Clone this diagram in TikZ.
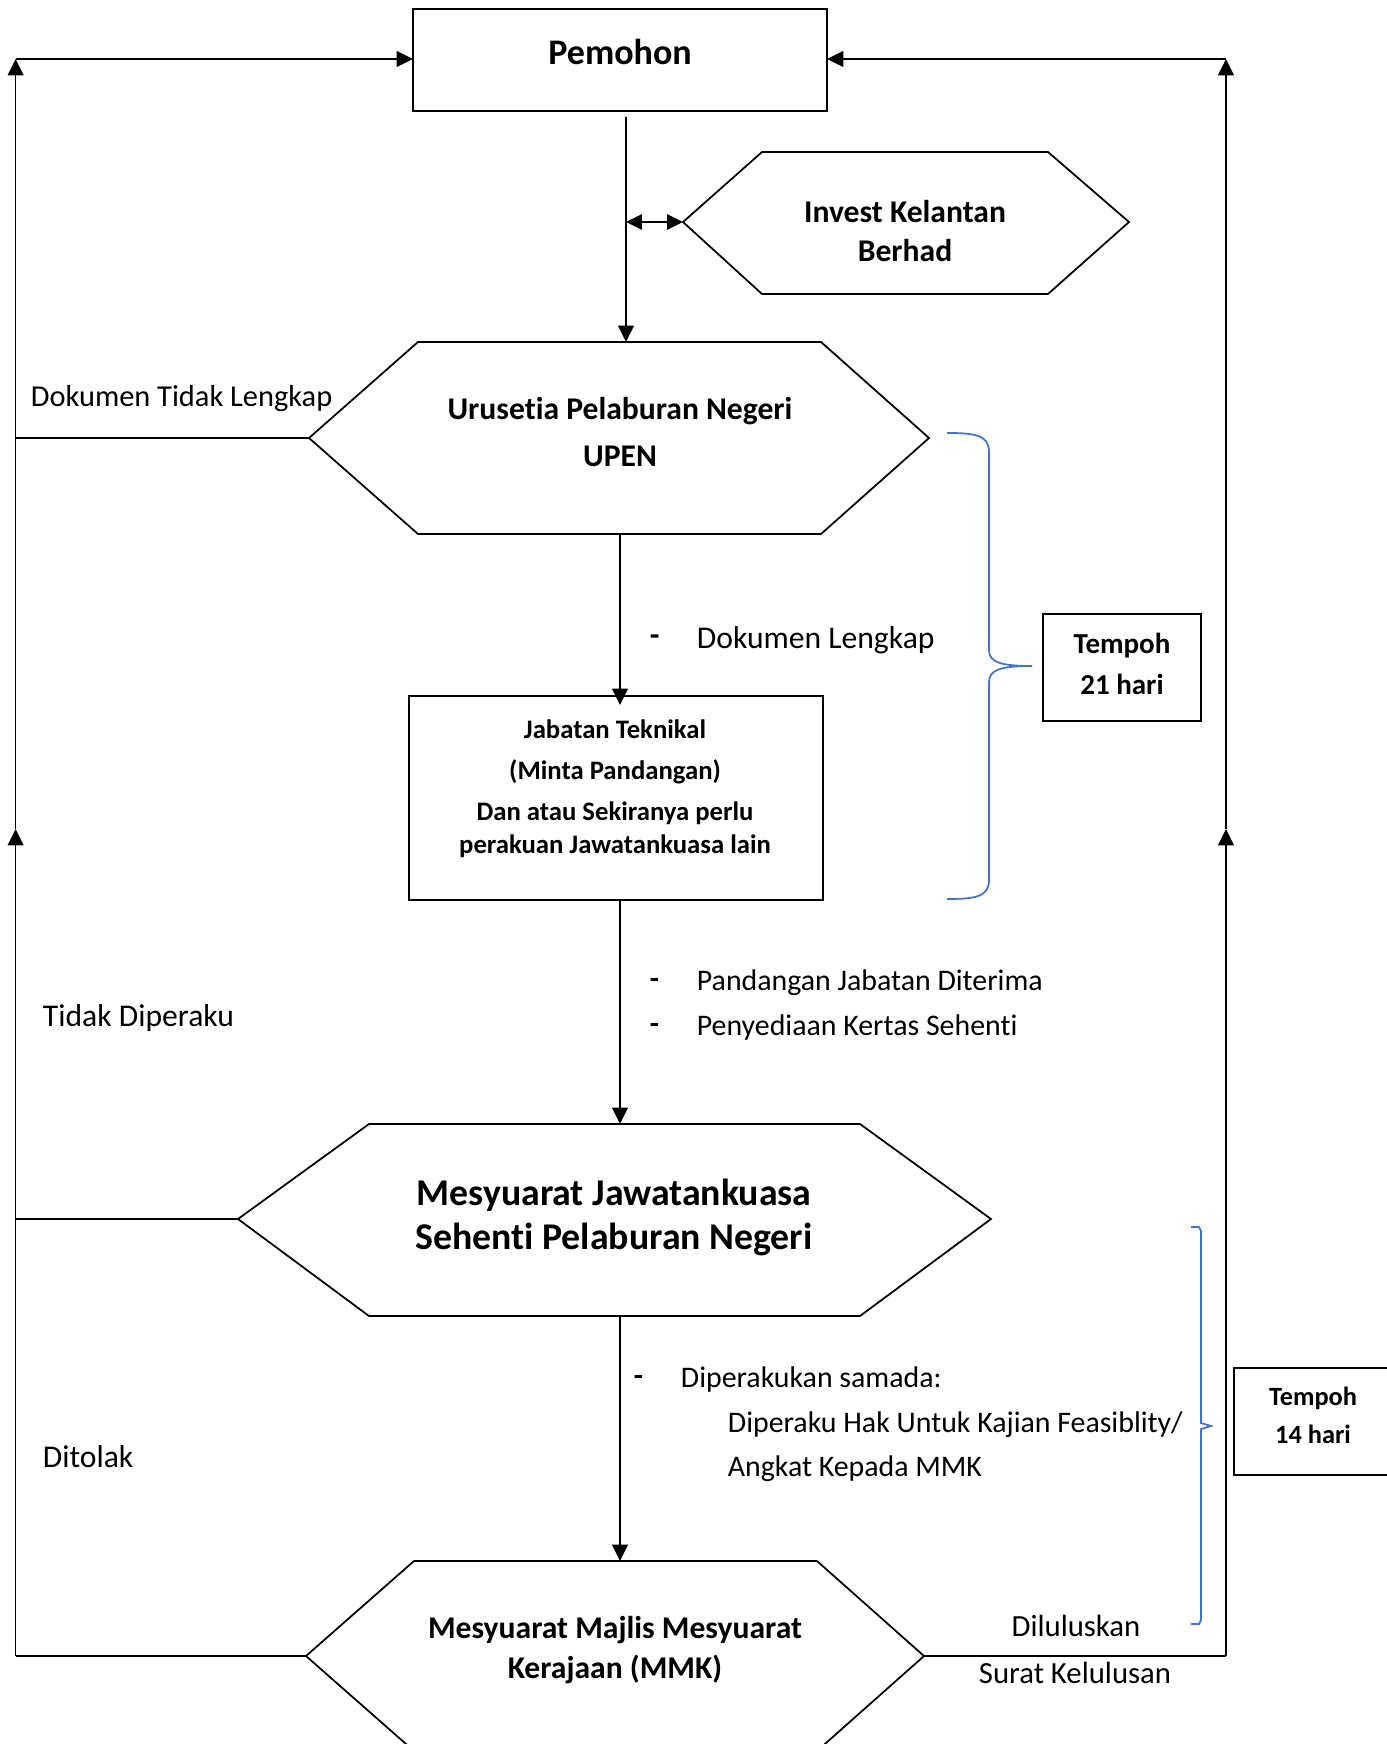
\documentclass[tikz,border=0pt]{standalone}
\usepackage{fontspec}
\setmainfont{Carlito}[Ligatures={NoCommon}]
\usetikzlibrary{arrows.meta}
\definecolor{braceblue}{RGB}{68,114,196}
\begin{document}
\begin{tikzpicture}[x=0.02cm,y=-0.02cm,line width=1pt,
  arr/.style={-{Triangle[length=9.3pt,width=9pt]}},
  darr/.style={{Triangle[length=9pt,width=8.6pt]}-{Triangle[length=9pt,width=8.6pt]}},
  lbl/.style={anchor=west,inner sep=0pt,font=\fontsize{17.3}{21}\selectfont},
  clbl/.style={inner sep=0pt,font=\fontsize{17.5}{21}\selectfont},
  bt/.style={inner sep=0pt,align=center},
  brace/.style={draw=braceblue,line width=1pt}]
\useasboundingbox (0,0) rectangle (1386,1744);
% ---------- Pemohon
\coordinate (pemNW) at (413,9);
\coordinate (pemSE) at (827,111);
\draw (pemNW) rectangle (pemSE);
\node[bt,font=\bfseries\fontsize{20.5}{24}\selectfont] (pem) at (620,52) {Pemohon};
\coordinate (pemW) at (413,59);
\coordinate (pemE) at (827,59);
\coordinate (pemS) at (626,117);
% ---------- Invest Kelantan hexagon
\coordinate (invL) at (683,222);
\coordinate (invTL) at (762,152);
\coordinate (invTR) at (1048,152);
\coordinate (invR) at (1129,222);
\coordinate (invBR) at (1048,294);
\coordinate (invBL) at (762,294);
\draw (invL) -- (invTL) -- (invTR) -- (invR) -- (invBR) -- (invBL) -- cycle;
\node[bt,font=\bfseries\fontsize{18}{22}\selectfont] (inv) at (905,231) {Invest Kelantan\\Berhad};
% ---------- UPEN hexagon
\coordinate (upL) at (309,438);
\coordinate (upTL) at (418,342);
\coordinate (upTR) at (821,342);
\coordinate (upR) at (929,438);
\coordinate (upBR) at (821,534);
\coordinate (upBL) at (418,534);
\draw (upL) -- (upTL) -- (upTR) -- (upR) -- (upBR) -- (upBL) -- cycle;
\node[bt,font=\bfseries\fontsize{18}{26.6}\selectfont] (upen) at (620,432) {Urusetia Pelaburan Negeri\\UPEN};
\coordinate (upTop) at (626,342);
\coordinate (upBot) at (620,534);
% ---------- Jabatan Teknikal box
\coordinate (jtNW) at (409,696);
\coordinate (jtSE) at (823,900);
\draw (jtNW) rectangle (jtSE);
\node[bt,font=\bfseries\fontsize{15.2}{23.2}\selectfont] (jt) at (615,789) {Jabatan Teknikal\\(Minta Pandangan)\\Dan atau Sekiranya perlu\\[-3.9pt]perakuan Jawatankuasa lain};
\coordinate (jtTop) at (620,705);
\coordinate (jtBot) at (620,900);
% ---------- Mesyuarat JK hexagon
\coordinate (jkL) at (238,1219);
\coordinate (jkTL) at (369,1124);
\coordinate (jkTR) at (860,1124);
\coordinate (jkR) at (991,1219);
\coordinate (jkBR) at (860,1316);
\coordinate (jkBL) at (369,1316);
\draw (jkL) -- (jkTL) -- (jkTR) -- (jkR) -- (jkBR) -- (jkBL) -- cycle;
\node[bt,font=\bfseries\fontsize{21.5}{25}\selectfont] (jk) at (614,1217) {Mesyuarat Jawatankuasa\\Sehenti Pelaburan Negeri};
\coordinate (jkTop) at (620,1124);
\coordinate (jkBot) at (620,1316);
% ---------- MMK hexagon
\coordinate (mmL) at (306,1656);
\coordinate (mmTL) at (414,1561);
\coordinate (mmTR) at (817,1561);
\coordinate (mmR) at (924,1656);
\coordinate (mmBR) at (817,1751);
\coordinate (mmBL) at (414,1751);
\draw (mmL) -- (mmTL) -- (mmTR) -- (mmR) -- (mmBR) -- (mmBL) -- cycle;
\node[bt,font=\bfseries\fontsize{18}{23}\selectfont] (mmk) at (615,1650) {Mesyuarat Majlis Mesyuarat\\Kerajaan (MMK)};
\coordinate (mmTop) at (620,1561);
% ---------- Tempoh boxes
\coordinate (t1NW) at (1043,614);
\coordinate (t1SE) at (1201,721);
\draw (t1NW) rectangle (t1SE);
\node[bt,font=\bfseries\fontsize{16.5}{23}\selectfont] (t1) at (1122,664) {Tempoh\\21 hari};
\coordinate (t2NW) at (1234,1368);
\coordinate (t2SE) at (1400,1475);
\draw (t2NW) rectangle (t2SE);
\node[bt,font=\bfseries\fontsize{15}{21.5}\selectfont] (t2) at (1313,1415) {Tempoh\\14 hari};
% ---------- main vertical connectors
\draw[arr] (pemS) -- (upTop);
\coordinate (dblL) at (626,222);
\draw[darr] (dblL) -- (invL);
\draw[arr] (upBot) -- (jtTop);
\draw[arr] (jtBot) -- (jkTop);
\draw[arr] (jkBot) -- (mmTop);
% ---------- left return line
\coordinate (Ltop) at (15.6,59);
\coordinate (Lmid) at (15.6,829);
\coordinate (Lbot) at (15.6,1656);
\coordinate (Lup) at (15.6,438);
\coordinate (Ljk) at (15.6,1219);
\draw (mmL) -- (Lbot);
\draw[arr] (Lbot) -- (Lmid);
\draw[arr] (Lmid) -- (Ltop);
\draw[arr] (Ltop) -- (pemW);
\draw (upL) -- (Lup);
\draw (jkL) -- (Ljk);
% ---------- right return line
\coordinate (Rtop) at (1226,59);
\coordinate (Rmid) at (1226,829);
\coordinate (Rbot) at (1226,1656);
\draw (mmR) -- (Rbot);
\draw[arr] (Rbot) -- (Rmid);
\draw[arr] (Rmid) -- (Rtop);
\draw[arr] (Rtop) -- (pemE);
% ---------- braces
\draw[brace] (947,433) .. controls (975,433) and (989,435) .. (989,452)
  -- (989,650) .. controls (989,662) and (1000,666) .. (1032,666)
  .. controls (1000,666) and (989,670) .. (989,682)
  -- (989,880) .. controls (989,897) and (975,899) .. (947,899);
\draw[brace] (1191,1227) -- (1199,1227) -- (1201,1231) -- (1201,1423) -- (1211,1426)
  -- (1201,1429) -- (1201,1620) -- (1199,1624) -- (1191,1624);
% ---------- labels
\node[lbl] (l1) at (30,399) {Dokumen Tidak Lengkap};
\node[lbl,font=\bfseries\fontsize{18}{21}\selectfont] (d1) at (649,640) {-};
\node[lbl,font=\fontsize{18}{21}\selectfont] (l2) at (696,640) {Dokumen Lengkap};
\node[lbl,font=\bfseries\fontsize{17}{21}\selectfont] (d2) at (649,983) {-};
\node[lbl,font=\fontsize{17}{21}\selectfont] (l3) at (696,983) {Pandangan Jabatan Diterima};
\node[lbl,font=\bfseries\fontsize{17}{21}\selectfont] (d3) at (649,1028) {-};
\node[lbl,font=\fontsize{17}{21}\selectfont] (l4) at (696,1028) {Penyediaan Kertas Sehenti};
\node[lbl,font=\fontsize{18}{21}\selectfont] (l5) at (42,1018) {Tidak Diperaku};
\node[lbl,font=\bfseries\fontsize{17}{21}\selectfont] (d4) at (633,1380) {-};
\node[lbl,font=\fontsize{17}{21}\selectfont] (l6) at (680,1380) {Diperakukan samada:};
\node[lbl,font=\fontsize{17}{21}\selectfont] (l7) at (727,1425) {Diperaku Hak Untuk Kajian Feasiblity/};
\node[lbl,font=\fontsize{17}{21}\selectfont] (l8) at (727,1469) {Angkat Kepada MMK};
\node[lbl,font=\fontsize{18}{21}\selectfont] (l9) at (42,1457) {Ditolak};
\node[clbl] (l10) at (1076,1626) {Diluluskan};
\node[clbl] (l11) at (1075,1673) {Surat Kelulusan};
\end{tikzpicture}
\end{document}
